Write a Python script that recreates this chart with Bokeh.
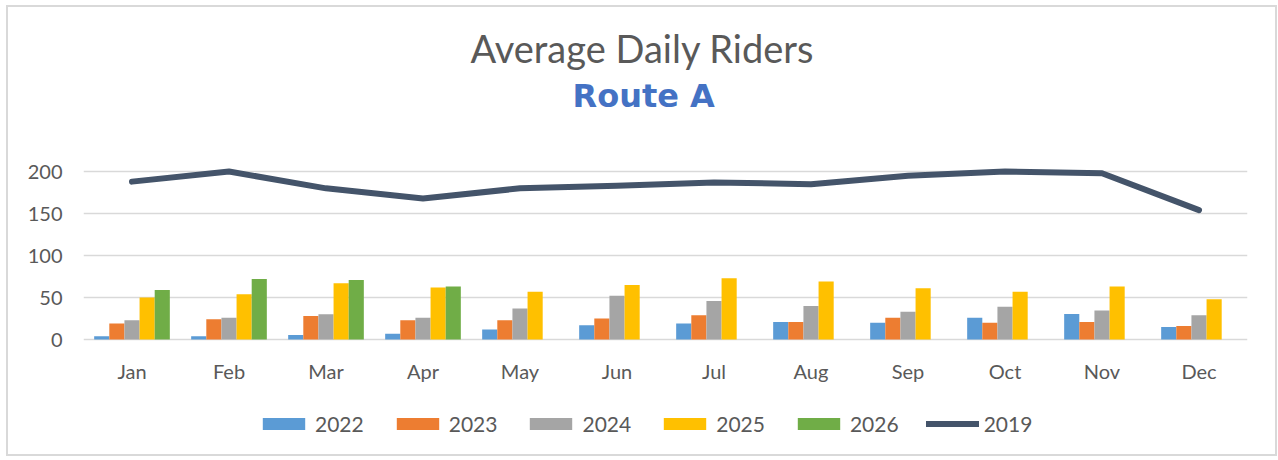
from bokeh.plotting import figure
from bokeh.models import (ColumnDataSource, Legend, LegendItem, Title, Range1d,
                          FixedTicker)
from bokeh.core.properties import value
from bokeh.transform import dodge
from bokeh.embed import file_html
from bokeh.resources import INLINE

months = ["Jan", "Feb", "Mar", "Apr", "May", "Jun",
          "Jul", "Aug", "Sep", "Oct", "Nov", "Dec"]
riders_2022 = [4, 4, 5.5, 7, 12, 17, 19, 21, 20, 26, 30.5, 15]
riders_2023 = [19, 24, 28, 23, 23, 25, 29, 21, 26, 20, 21, 16]
riders_2024 = [23, 26, 30, 26, 37, 52, 46, 40, 33, 39, 34.5, 29]
riders_2025 = [50, 54, 67, 62, 57, 65, 73, 69, 61, 57, 63, 48]
riders_2026 = [59, 72, 71, 63, None, None, None, None, None, None, None, None]
riders_2019 = [188, 200, 180, 168, 180, 183, 187, 185, 195, 200, 198, 154]
y_ticks = [0, 50, 100, 150, 200]

bar_series = [
    ("2022", riders_2022, "#5B9BD5"),
    ("2023", riders_2023, "#ED7D31"),
    ("2024", riders_2024, "#A5A5A5"),
    ("2025", riders_2025, "#FFC000"),
    ("2026", riders_2026, "#70AD47"),
]

FONT = "Lato"
TXT = "#595959"
MONTH_LABEL_Y = -38  # data units below the zero line

p = figure(x_range=months, y_range=Range1d(-125, 206),
           frame_width=1164, frame_height=278,
           min_border_left=75, min_border_right=28,
           min_border_top=159, min_border_bottom=10,
           title=None, toolbar_location=None, output_backend="svg",
           background_fill_color="white", border_fill_color="white")
p.outline_line_color = None
p.styles = {"border": "2px solid #D9D9D9", "margin-left": "6px",
            "margin-top": "5px"}

step = 0.156
items = []
for i, (name, vals, color) in enumerate(bar_series):
    xs = [m for m, v in zip(months, vals) if v is not None]
    ys = [v for v in vals if v is not None]
    src = ColumnDataSource(dict(month=xs, val=ys))
    r = p.vbar(x=dodge("month", (i - 2) * step, range=p.x_range), top="val",
               bottom=0, width=step, source=src, fill_color=color,
               line_color=None)
    items.append(LegendItem(label=name, renderers=[r]))

line_src = ColumnDataSource(dict(month=months, val=riders_2019))
lr = p.line(x="month", y="val", source=line_src, line_color="#44546A",
            line_width=6, line_join="round", line_cap="round")
items.append(LegendItem(label="2019", renderers=[lr]))

# month labels (category axis text)
lab_src = ColumnDataSource(dict(month=months, y=[MONTH_LABEL_Y] * len(months)))
p.text(x="month", y="y", text="month", source=lab_src,
       text_font=value(FONT), text_font_size="20px", text_color=TXT,
       text_align="center", text_baseline="middle")
p.xaxis.visible = False

# y axis
p.yaxis.ticker = FixedTicker(ticks=y_ticks)
ax = p.yaxis[0]
ax.axis_line_color = None
ax.major_tick_line_color = None
ax.minor_tick_line_color = None
ax.major_tick_out = 0
ax.major_tick_in = 0
ax.major_label_text_font = FONT
ax.major_label_text_font_size = "20px"
ax.major_label_text_color = TXT
ax.major_label_standoff = 21

p.xgrid.grid_line_color = None
p.ygrid.ticker = FixedTicker(ticks=y_ticks)
p.ygrid.grid_line_color = "#D9D9D9"
p.ygrid.grid_line_width = 1.5

legend = Legend(items=items, orientation="horizontal", location=(174, 8),
                glyph_width=53, glyph_height=15, label_standoff=5, spacing=27,
                padding=0, margin=0, border_line_color=None,
                background_fill_alpha=0,
                label_text_font=FONT, label_text_font_size="21px",
                label_text_color=TXT)
p.add_layout(legend, "center")

# titles: first added sits nearest the plot area
p.add_layout(Title(text=" ", text_font_size="1px", standoff=49), "above")
p.add_layout(Title(text="Route A", align="left", text_font="DejaVu Sans",
                   text_font_size="32px", text_font_style="bold",
                   text_color="#4472C4", standoff=0, offset=489), "above")
p.add_layout(Title(text="Average Daily Riders", align="left", text_font=FONT,
                   text_font_size="38px", text_font_style="normal",
                   text_color=TXT, standoff=8, offset=387), "above")

open("out.html", "w").write(file_html(p, INLINE))
